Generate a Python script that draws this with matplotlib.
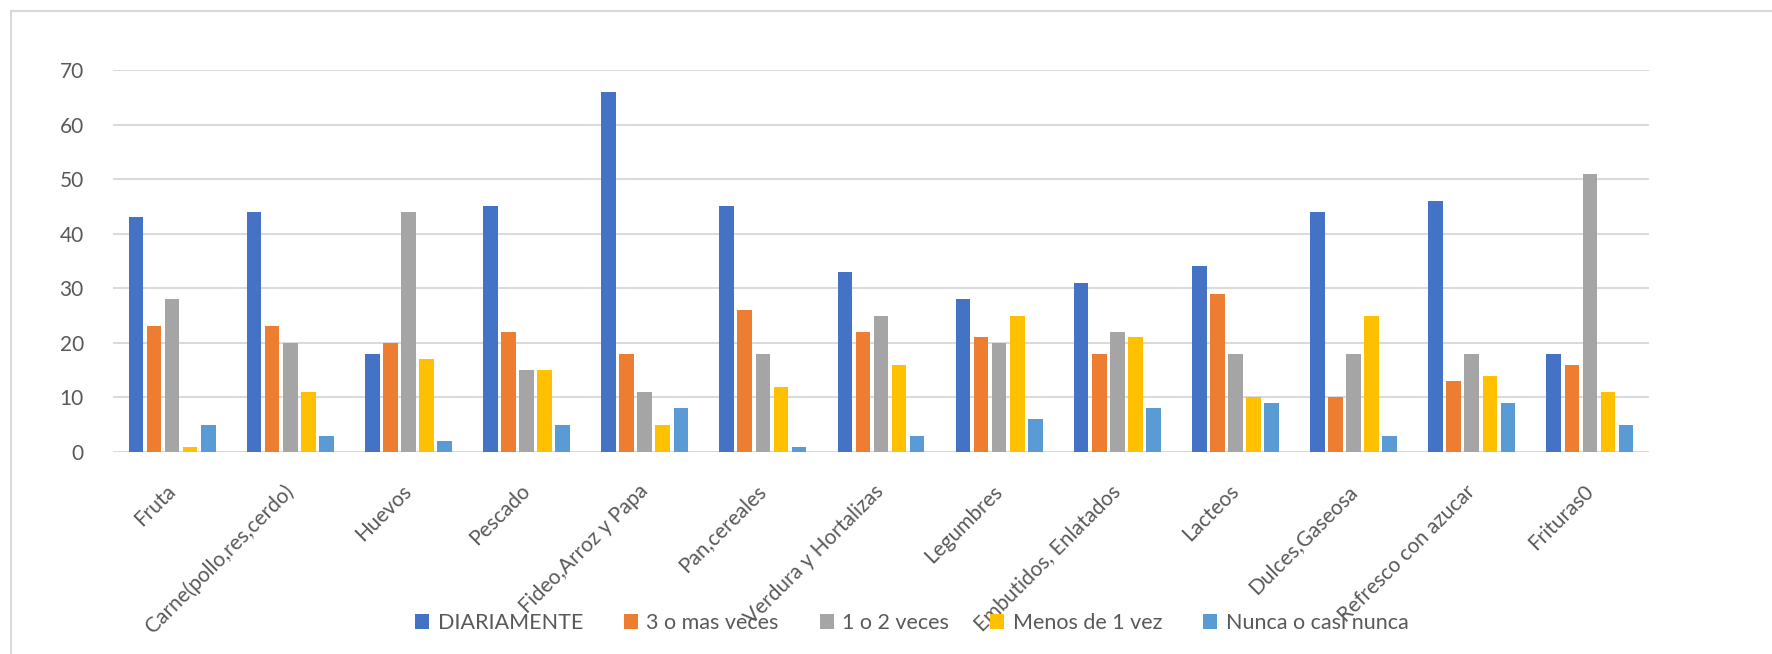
"""
Frecuencia de consumo de alimentos - grouped bar chart (Excel look).
"""
import matplotlib
matplotlib.use("Agg")
import matplotlib.pyplot as plt
import matplotlib.patches as mpatches
import numpy as np

# Data
categories = [
    "Fruta", "Carne(pollo,res,cerdo)", "Huevos", "Pescado", "Fideo,Arroz y Papa",
    "Pan,cereales", "Verdura y Hortalizas", "Legumbres", "Embutidos, Enlatados",
    "Lacteos", "Dulces,Gaseosa", "Refresco con azucar", "Frituras0",
]
series_names = ["DIARIAMENTE", "3 o mas veces", "1 o 2 veces", "Menos de 1 vez",
                "Nunca o casi nunca"]
diariamente = [43, 44, 18, 45, 66, 45, 33, 28, 31, 34, 44, 46, 18]
tres_o_mas = [23, 23, 20, 22, 18, 26, 22, 21, 18, 29, 10, 13, 16]
uno_o_dos = [28, 20, 44, 15, 11, 18, 25, 20, 22, 18, 18, 18, 51]
menos_de_1 = [1, 11, 17, 15, 5, 12, 16, 25, 21, 10, 25, 14, 11]
nunca = [5, 3, 2, 5, 8, 1, 3, 6, 8, 9, 3, 9, 5]
y_ticks = [0, 10, 20, 30, 40, 50, 60, 70]

COLORS = ["#4472C4", "#ED7D31", "#A5A5A5", "#FFC000", "#5B9BD5"]
TEXT = "#595959"
GRID = "#D9D9D9"

W, H, DPI = 1772, 654, 100
plt.rcParams["font.family"] = ["Lato", "DejaVu Sans"]

fig = plt.figure(figsize=(W / DPI, H / DPI), dpi=DPI)
fig.patch.set_facecolor("white")

# chart-area border (only left and top are visible in the reference)
fig.patches.append(mpatches.Rectangle(
    (11 / W, -0.1), 1.2, 1.1 - 11 / H, transform=fig.transFigure,
    fill=False, edgecolor=GRID, linewidth=1.5))

left, right, top, bottom = 113, 1649, 70, 452
ax = fig.add_axes([left / W, 1 - bottom / H, (right - left) / W, (bottom - top) / H])

values = [diariamente, tres_o_mas, uno_o_dos, menos_de_1, nunca]
x = np.arange(len(categories))
step, width = 0.153, 0.124
for i, (name, vals, col) in enumerate(zip(series_names, values, COLORS)):
    ax.bar(x + (i - 2) * step, vals, width=width, color=col, label=name, zorder=3)

ax.set_xlim(-0.5, len(categories) - 0.5)
ax.set_ylim(0, 70)
ax.set_yticks(y_ticks)
ax.yaxis.grid(True, color=GRID, linewidth=1.4)
ax.set_axisbelow(True)
for s in ax.spines.values():
    s.set_visible(False)
ax.axhline(0, color=GRID, linewidth=2, zorder=2)

ax.tick_params(axis="y", length=0, pad=21, labelsize=15, labelcolor=TEXT)
ax.tick_params(axis="x", length=0, pad=26, labelsize=15, labelcolor=TEXT)
ax.set_xticks(x)
ax.set_xticklabels(categories, rotation=45, ha="right", va="center",
                   rotation_mode="anchor")

handles, labels = ax.get_legend_handles_labels()
fig.legend(handles, labels, loc="center left",
           bbox_to_anchor=(415 / W, 1 - 623 / H), bbox_transform=fig.transFigure,
           ncol=5, frameon=False, fontsize=15.5, labelcolor=TEXT,
           handlelength=0.65, handleheight=0.65, handletextpad=0.4,
           columnspacing=1.9, borderpad=0, borderaxespad=0)

fig.savefig("out.png", dpi=DPI, facecolor="white")
plt.close(fig)
